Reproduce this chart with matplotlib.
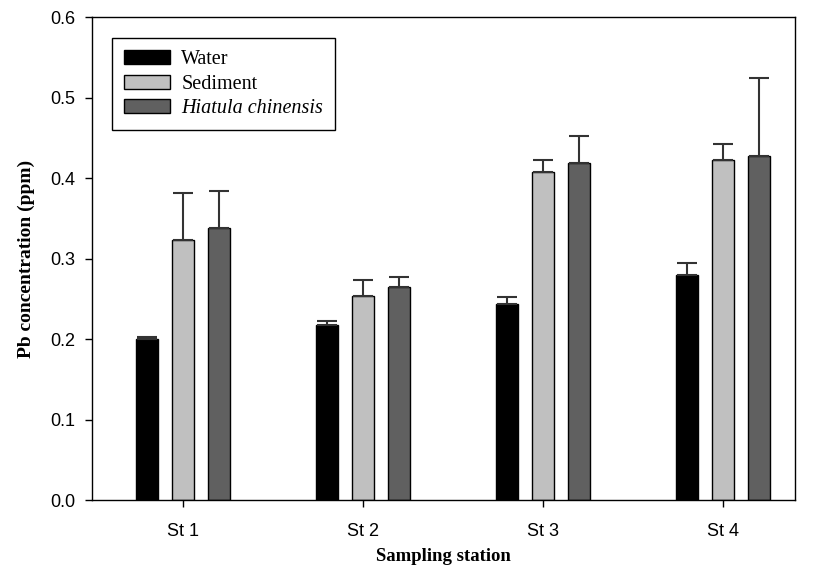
import numpy as np
import matplotlib.pyplot as plt

stations = ['St 1', 'St 2', 'St 3', 'St 4']
water = [0.200, 0.217, 0.244, 0.279]
water_err = [0.002, 0.005, 0.008, 0.016]
sediment = [0.323, 0.254, 0.408, 0.423]
sediment_err = [0.058, 0.019, 0.014, 0.019]
hiatula = [0.338, 0.265, 0.419, 0.427]
hiatula_err = [0.046, 0.012, 0.033, 0.097]

fig = plt.figure(figsize=(8.19, 5.79), dpi=100)
ax = fig.add_axes([0.1123, 0.1364, 0.8584, 0.8342])

x = np.arange(len(stations))
w = 0.122
off = 0.2
err_kw = dict(ecolor='#333333', elinewidth=1.5, capsize=7, capthick=1.5)

ax.bar(x - off, water, w, color='black', edgecolor='black', linewidth=1,
       yerr=[np.zeros(4), water_err], error_kw=err_kw, label='Water')
ax.bar(x, sediment, w, color='#c0c0c0', edgecolor='black', linewidth=1,
       yerr=[np.zeros(4), sediment_err], error_kw=err_kw, label='Sediment')
ax.bar(x + off, hiatula, w, color='#606060', edgecolor='black', linewidth=1,
       yerr=[np.zeros(4), hiatula_err], error_kw=err_kw, label='Hiatula chinensis')

ax.set_xlim(-0.505, 3.4)
ax.set_ylim(0, 0.6)
ax.set_xticks(x)
ax.set_xticklabels(stations, fontfamily='Liberation Sans', fontsize=13)
ax.set_yticks(np.arange(0, 0.61, 0.1))
ax.set_yticklabels(['%.1f' % v for v in np.arange(0, 0.61, 0.1)],
                   fontfamily='Liberation Sans', fontsize=13)
ax.tick_params(direction='out', length=5, width=1, top=False, right=False)
ax.tick_params(axis='x', pad=11.5)
ax.tick_params(axis='y', pad=7)
for s in ax.spines.values():
    s.set_linewidth(1)

ax.set_xlabel('Sampling station', fontfamily='Liberation Serif', fontweight='bold',
              fontsize=13.5, labelpad=6)
ax.set_ylabel('Pb concentration (ppm)', fontfamily='Liberation Serif', fontweight='bold',
              fontsize=14, labelpad=11)

leg = ax.legend(loc='upper left', bbox_to_anchor=(0.028, 0.9565), frameon=True,
                fancybox=False, edgecolor='black', framealpha=1,
                prop={'family': 'Liberation Serif', 'size': 14.5},
                handlelength=2.3, handleheight=0.7, labelspacing=0.27,
                borderpad=0.6, handletextpad=0.55, borderaxespad=0)
leg.get_frame().set_linewidth(1)
leg.get_texts()[2].set_fontstyle('italic')

fig.savefig('out.png', dpi=100)
